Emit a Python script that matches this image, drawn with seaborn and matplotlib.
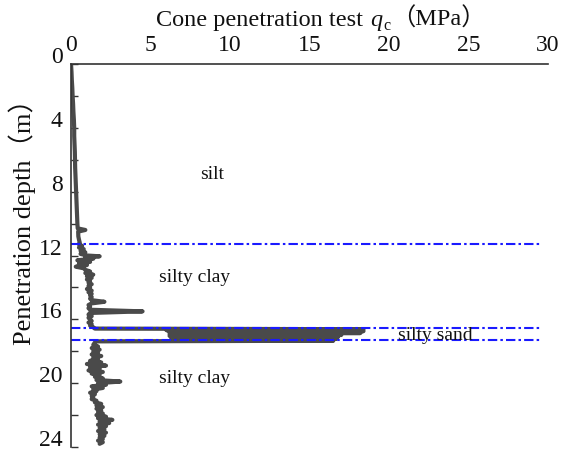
import matplotlib
matplotlib.use("Agg")
import matplotlib.pyplot as plt
import matplotlib.transforms as mtransforms
from matplotlib.ticker import MultipleLocator
import seaborn as sns
import pandas as pd

# CPT profile: depth (m) and cone resistance qc (MPa)
depth = [0.0, 0.5, 1.0, 1.5, 2.0, 2.5, 3.0, 3.5, 4.0, 4.5, 5.0, 5.5, 6.0, 6.5,
         7.0, 7.5, 8.0, 8.5, 9.0, 9.5, 10.0, 10.3, 10.4, 10.5, 10.8, 11.0, 11.2,
         11.3, 11.4, 11.5, 11.6, 11.7, 11.8, 11.9, 12.0, 12.05, 12.1, 12.2, 12.3,
         12.4, 12.5, 12.6, 12.7, 12.8, 12.9, 13.0, 13.1, 13.2, 13.3, 13.4, 13.5,
         13.6, 13.7, 13.8, 13.9, 14.0, 14.1, 14.2, 14.3, 14.4, 14.5, 14.6, 14.7,
         14.8, 14.9, 15.0, 15.1, 15.2, 15.3, 15.4, 15.5, 15.6, 15.7, 15.8, 15.9,
         16.0, 16.1, 16.2, 16.3, 16.4, 16.5, 16.58,
         16.62, 16.68, 16.74, 16.80, 16.86, 16.92, 16.98, 17.04, 17.10, 17.16,
         17.22, 17.28, 17.34, 17.38,
         17.45, 17.6, 17.7, 17.8, 17.9, 18.0, 18.1, 18.2, 18.3, 18.4, 18.5, 18.6,
         18.7, 18.8, 18.9, 19.0, 19.1, 19.2, 19.3, 19.4, 19.5, 19.6, 19.7, 19.8,
         19.9, 20.0, 20.1, 20.2, 20.3, 20.4, 20.5, 20.6, 20.7, 20.8, 20.9, 21.0,
         21.1, 21.2, 21.3, 21.4, 21.5, 21.6, 21.7, 21.8, 21.9, 22.0, 22.1, 22.2,
         22.3, 22.4, 22.5, 22.6, 22.7, 22.8, 22.9, 23.0, 23.1, 23.2, 23.3, 23.4,
         23.5, 23.6, 23.7, 23.8]
qc = [0.0, 0.03, 0.05, 0.08, 0.1, 0.13, 0.15, 0.18, 0.2, 0.2, 0.22, 0.24, 0.25, 0.26,
      0.28, 0.3, 0.32, 0.34, 0.36, 0.38, 0.4, 0.42, 0.9, 0.45, 0.46, 0.5, 0.55,
      0.5, 0.7, 0.5, 0.8, 0.6, 0.9, 0.6, 1.0, 1.8, 0.9, 1.4, 0.4,
      1.2, 0.5, 1.0, 0.3, 0.8, 0.9, 1.2, 0.9, 1.4, 1.0, 1.3, 1.0,
      1.2, 1.1, 1.3, 1.1, 1.2, 1.0, 1.3, 1.1, 1.3, 1.2, 1.3, 1.2,
      1.3, 2.1, 1.3, 1.1, 1.2, 1.1, 1.2, 4.5, 1.2, 1.1, 1.3, 1.1,
      1.2, 1.3, 1.1, 1.3, 1.2, 1.4, 1.5,
      18.4, 6.0, 18.4, 6.2, 18.2, 6.2, 17.0, 6.2, 16.8, 6.3,
      16.7, 6.4, 16.5, 1.6,
      1.5, 1.4, 1.7, 1.3, 1.8, 1.4, 1.7, 1.3, 1.9, 1.4, 1.7, 1.2,
      1.9, 1.0, 2.2, 1.2, 1.8, 1.1, 2.0, 1.3, 1.8, 1.5, 2.0, 1.6,
      3.1, 1.7, 2.2, 1.3, 2.0, 1.4, 1.6, 1.2, 1.5, 1.3, 1.4, 1.3,
      1.6, 1.5, 1.9, 1.6, 2.0, 1.6, 1.9, 1.7, 2.0, 1.6, 2.2, 1.7,
      2.6, 1.8, 2.4, 1.7, 2.2, 1.8, 2.1, 1.7, 2.2, 1.8, 2.1, 1.8,
      2.0, 1.7, 2.0, 1.8]

# layer boundaries (m) and layer labels
boundaries = [11.25, 16.56, 17.3]
layer_names = ["silt", "silty clay", "silty sand", "silty clay"]
layer_qc = [8.9, 7.8, 22.9, 7.8]
layer_depth = [6.9, 13.4, 17.0, 19.7]

df = pd.DataFrame({"depth": depth, "qc": qc})

sns.set_theme(style="ticks")
plt.rcParams["font.family"] = ["Liberation Serif", "Noto Sans CJK SC"]

fig = plt.figure(figsize=(5.61, 4.5), dpi=100)
ax = fig.add_axes([0.1266, 0.0067, 0.850, 0.851])

sns.lineplot(data=df, x="qc", y="depth", orient="y", sort=False, estimator=None,
             color="#4a4a4a", lw=3, ax=ax)

for b in boundaries:
    ax.axhline(b, xmin=0, xmax=0.988, color="#1a1aff", lw=1.5,
               ls=(0, (4.5, 1.5, 1.2, 1.5)))

for name, x, y in zip(layer_names, layer_qc, layer_depth):
    ax.text(x, y, name, fontsize=14, ha="center", va="center", color="#111111")

ax.set_xlim(0, 30)
ax.set_ylim(24, 0)
ax.xaxis.tick_top()
ax.xaxis.set_major_locator(MultipleLocator(5))
ax.xaxis.set_minor_locator(MultipleLocator(2.5))
ax.yaxis.set_major_locator(MultipleLocator(4))
ax.yaxis.set_minor_locator(MultipleLocator(2))
ax.tick_params(which="both", direction="in", length=5, width=1, color="#333333",
               labelsize=17, labelcolor="#111111")
ax.tick_params(axis="x", pad=6)
ax.tick_params(axis="y", pad=6)
ax.set_xlabel("")
ax.set_ylabel("")

sns.despine(ax=ax, top=False, right=True, bottom=True, left=False)
for s in ["top", "left"]:
    ax.spines[s].set_color("#333333")
    ax.spines[s].set_linewidth(1.2)

# y tick labels sit a little above their ticks in the original
shift = mtransforms.ScaledTranslation(0, 9 / 100, fig.dpi_scale_trans)
for lab in ax.get_yticklabels():
    lab.set_transform(lab.get_transform() + shift)

# title built piece by piece so the full-width brackets can fall back to CJK
renderer = fig.canvas.get_renderer()
base_y = 1 - 26 / 450
x_px = 156
pieces = [("Cone penetration test ", 17.5, "normal", 0),
          ("q", 17.5, "italic", 0),
          ("c", 11.5, "normal", -4),
          ("（MPa）", 17.5, "normal", 0)]
for s, size, style, dy in pieces:
    t = fig.text(x_px / 561, base_y + dy / 450, s, fontsize=size, style=style,
                 ha="left", va="baseline", color="#111111")
    bb = t.get_window_extent(renderer)
    x_px = bb.x1 + 1

fig.text(22 / 561, 1 - 216 / 450, "Penetration depth（m）", fontsize=19,
         rotation=90, ha="center", va="center", color="#111111")

fig.savefig("out.png", dpi=100)
